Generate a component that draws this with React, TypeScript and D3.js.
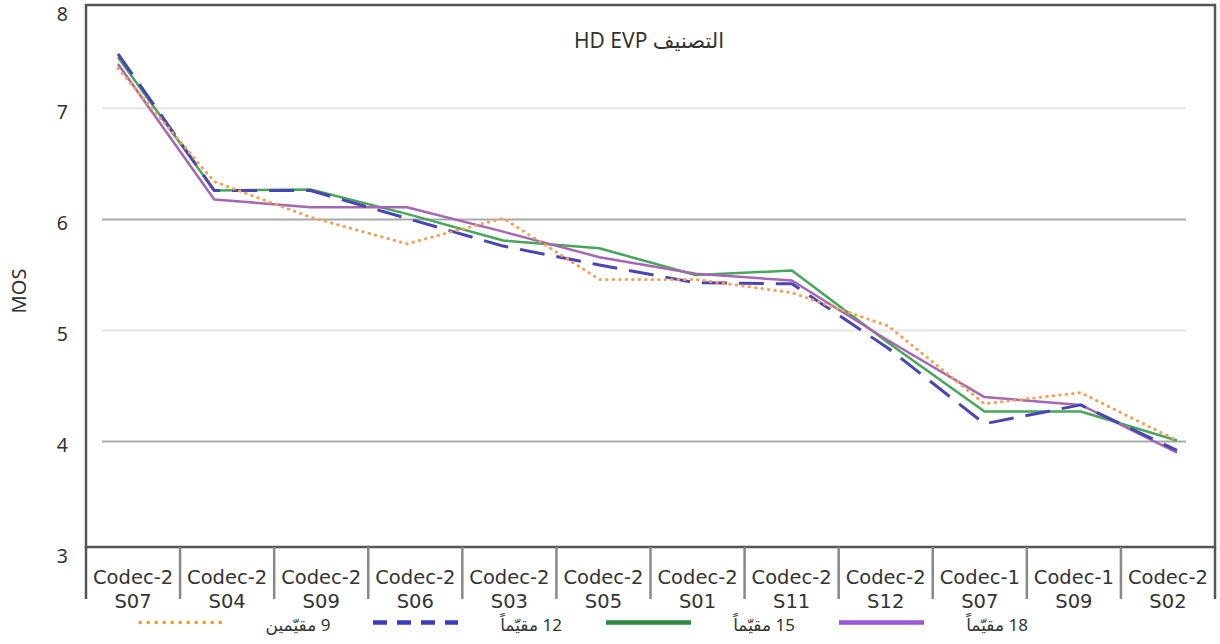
import React from "react";
import * as d3 from "d3";

const categories = [
  ["Codec-2", "S07"], ["Codec-2", "S04"], ["Codec-2", "S09"], ["Codec-2", "S06"],
  ["Codec-2", "S03"], ["Codec-2", "S05"], ["Codec-2", "S01"], ["Codec-2", "S11"],
  ["Codec-2", "S12"], ["Codec-1", "S07"], ["Codec-1", "S09"], ["Codec-2", "S02"],
];
const catKeys = categories.map((c) => c.join(" "));

const seriesNames = ["9 مقيّمين", "12 مقيّماً", "15 مقيّماً", "18 مقيّماً"];
const raters9 = [7.36, 6.34, 6.02, 5.78, 6.01, 5.46, 5.46, 5.34, 5.04, 4.34, 4.44, 4.01];
const raters12 = [7.49, 6.26, 6.26, 6.01, 5.76, 5.59, 5.43, 5.42, 4.84, 4.16, 4.33, 3.92];
const raters15 = [7.46, 6.26, 6.27, 6.05, 5.81, 5.74, 5.5, 5.54, 4.89, 4.27, 4.27, 4.01];
const raters18 = [7.4, 6.18, 6.11, 6.11, 5.89, 5.66, 5.51, 5.45, 4.91, 4.4, 4.33, 3.9];
const yTicks = [3, 4, 5, 6, 7, 8];
const title = "التصنيف HD EVP";
const yLabel = "MOS";

const FONT = "'Noto Sans', 'DejaVu Sans', sans-serif";
const CAT_FONT = "'DejaVu Sans', sans-serif";

type Style = { color: string; legendColor: string; dash?: string; cap: string; width: number; legendWidth: number; legendDash?: string };
const styles: Style[] = [
  { color: "#f3a05a", legendColor: "#e6a33a", dash: "0.5 6", cap: "round", width: 3, legendWidth: 3.5, legendDash: "0.5 7.5" },
  { color: "#4a44b4", legendColor: "#3c3cc2", dash: "25 12", cap: "butt", width: 3, legendWidth: 4.5, legendDash: "14 10" },
  { color: "#47a65a", legendColor: "#2e8a3e", cap: "butt", width: 2.5, legendWidth: 4.5 },
  { color: "#a567b4", legendColor: "#9b55d8", cap: "butt", width: 2.5, legendWidth: 4.5 },
];
const seriesData = [raters9, raters12, raters15, raters18];
const drawOrder = [2, 3, 1, 0];

export default function App() {
  const W = 1220, H = 644;
  const left = 86, right = 1215, top = 5, bottom = 547, tickBottom = 599;
  const y = d3.scaleLinear().domain([3, 8]).range([552.6, -2.7]);
  const xBand = d3.scaleBand<string>().domain(catKeys).range([left, right]);
  const xPt = d3.scalePoint<string>().domain(catKeys).range([118, 1177]);
  const line = d3
    .line<number>()
    .x((_, i) => xPt(catKeys[i]) as number)
    .y((d) => y(d));
  const legendX = d3.scaleLinear().domain([0, 1]).range([140, 373]);

  return (
    <svg width={W} height={H} style={{ position: "absolute", left: 0, top: 0, background: "#fff" }} fontFamily={FONT}>
      {/* gridlines */}
      {[4, 5, 6, 7].map((v) => (
        <line key={v} x1={102} x2={1186} y1={y(v)} y2={y(v)}
          stroke={v % 2 === 0 ? "#a9a9a9" : "#e6e6e6"} strokeWidth={2} />
      ))}
      {/* frame */}
      <rect x={left} y={top} width={right - left} height={bottom - top} fill="none" stroke="#555" strokeWidth={2.5} />
      <line x1={left} x2={left} y1={bottom} y2={tickBottom} stroke="#555" strokeWidth={2.5} />
      <line x1={right} x2={right} y1={bottom} y2={tickBottom} stroke="#555" strokeWidth={2.5} />
      {catKeys.slice(1).map((k) => (
        <line key={k} x1={xBand(k)} x2={xBand(k)} y1={bottom} y2={tickBottom} stroke="#888" strokeWidth={2.5} />
      ))}
      {/* y tick labels */}
      {yTicks.map((v) => (
        <text key={v} x={68} y={Math.max(y(v) + 3, 13.5)} textAnchor="end" dominantBaseline="central"
          fontSize={19.5} fill="#333">{v}</text>
      ))}
      <text transform={`translate(26,291) rotate(-90)`} textAnchor="middle" fontSize={20} fill="#333">{yLabel}</text>
      {/* category labels */}
      {categories.map((c, i) => {
        const cx = (xBand(catKeys[i]) as number) + xBand.bandwidth() / 2;
        return (
          <g key={i} fontFamily={CAT_FONT} fontSize={19.5} fill="#333">
            <text x={cx} y={584} textAnchor="middle">{c[0]}</text>
            <text x={cx} y={608} textAnchor="middle">{c[1]}</text>
          </g>
        );
      })}
      {/* title */}
      <text x={649} y={48} textAnchor="middle" direction="rtl" fontSize={21} fill="#333">{title}</text>
      {/* lines */}
      {drawOrder.map((si) => {
        const s = styles[si];
        return (
          <path key={si} d={line(seriesData[si]) as string} fill="none" stroke={s.color}
            strokeWidth={s.width} strokeDasharray={s.dash} strokeLinecap={s.cap as any} strokeLinejoin="round" />
        );
      })}
      {/* legend */}
      {seriesNames.map((n, i) => {
        const s = styles[i];
        const x0 = legendX(i);
        return (
          <g key={n}>
            <line x1={x0} x2={x0 + 85} y1={622.5} y2={622.5} stroke={s.legendColor} strokeWidth={s.legendWidth}
              strokeDasharray={s.legendDash} strokeLinecap={i === 0 ? "round" : "butt"} />
            <text x={x0 + 158} y={631} textAnchor="middle" direction="rtl" fontSize={17} fill="#333">{n}</text>
          </g>
        );
      })}
    </svg>
  );
}
